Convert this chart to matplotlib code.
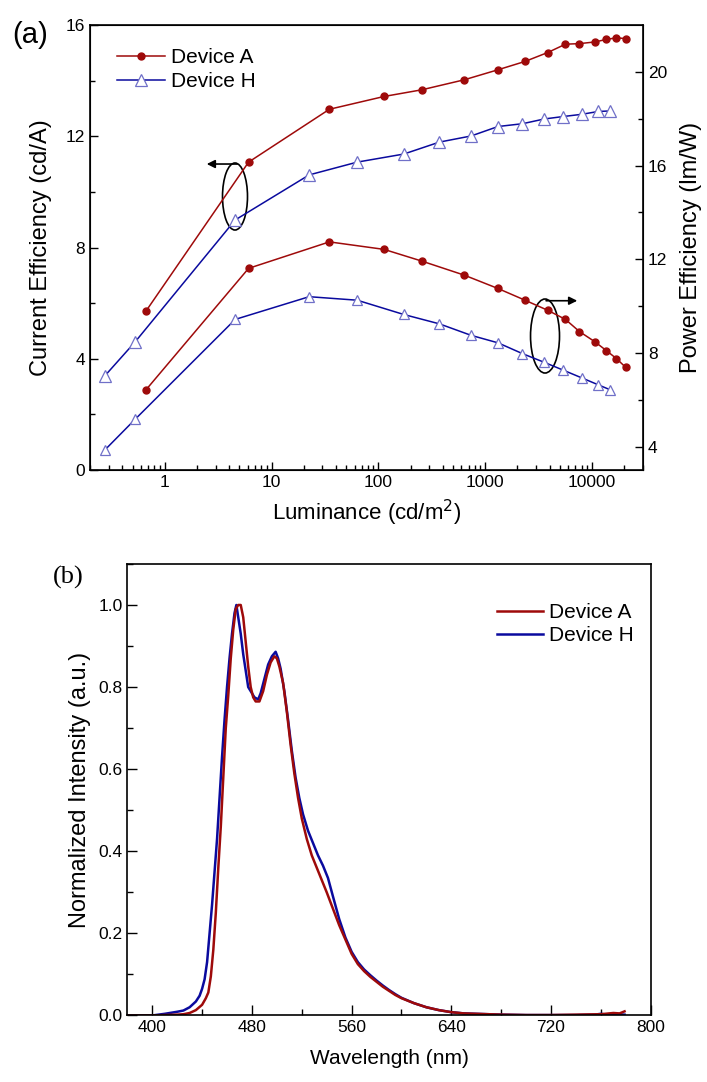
import matplotlib
matplotlib.use('Agg')  # no display
import matplotlib.pyplot as plt
from matplotlib.patches import Ellipse
from matplotlib.ticker import MultipleLocator, FixedLocator

plt.rcParams['font.family'] = ['Liberation Sans', 'DejaVu Sans']

# (a) luminance dependence
lum_a = [0.67, 6.1, 34.8, 113, 255, 637, 1317, 2360, 3846, 5640, 7630, 10600, 13600, 16900, 20700]
ce_a = [5.72, 11.07, 12.97, 13.43, 13.67, 14.03, 14.39, 14.69, 15.01, 15.31, 15.33, 15.39, 15.48, 15.54, 15.51]
pe_a = [6.43, 11.61, 12.74, 12.42, 11.92, 11.32, 10.75, 10.25, 9.82, 9.43, 8.91, 8.48, 8.10, 7.76, 7.38]

lum_h = [0.276, 0.53, 4.57, 22.5, 63.4, 173, 373, 738, 1318, 2230, 3560, 5400, 8050, 11400, 14700]
ce_h = [3.39, 4.61, 8.99, 10.61, 11.07, 11.36, 11.79, 12.01, 12.35, 12.45, 12.62, 12.71, 12.79, 12.89, 12.91]
pe_h = [3.86, 5.17, 9.43, 10.40, 10.25, 9.64, 9.24, 8.75, 8.43, 7.97, 7.60, 7.26, 6.93, 6.64, 6.43]

# (b) EL spectra
wl_a = [380, 390, 400, 410, 420, 425, 430, 435, 440, 443, 445, 447, 449, 451, 453, 455, 457, 459,
        461, 463, 465, 467, 469, 471, 473, 475, 477, 479, 481, 483, 486, 489, 492, 495, 498, 500,
        502, 505, 508, 511, 514, 517, 520, 524, 528, 532, 536, 540, 545, 550, 555, 560, 565, 570,
        575, 580, 585, 590, 595, 600, 610, 620, 630, 640, 650, 660, 680, 700, 720, 740, 760, 770,
        775, 779]
int_a = [0, 0, 0.0, 0.001, 0.002, 0.003, 0.006, 0.013, 0.026, 0.042, 0.056, 0.095, 0.16, 0.25,
         0.36, 0.46, 0.58, 0.70, 0.78, 0.87, 0.94, 0.99, 1.0, 1.0, 0.97, 0.91, 0.85, 0.80, 0.775,
         0.765, 0.765, 0.79, 0.83, 0.86, 0.875, 0.87, 0.85, 0.81, 0.74, 0.66, 0.59, 0.53, 0.48,
         0.43, 0.39, 0.36, 0.33, 0.30, 0.26, 0.22, 0.185, 0.15, 0.125, 0.108, 0.094, 0.082, 0.07,
         0.06, 0.05, 0.042, 0.03, 0.02, 0.013, 0.008, 0.005, 0.004, 0.002, 0.001, 0.001, 0.002,
         0.003, 0.006, 0.005, 0.01]

wl_h = [380, 390, 400, 410, 420, 425, 430, 435, 438, 440, 442, 444, 446, 448, 450, 452, 454, 456,
        458, 460, 462, 464, 466, 467.5, 469, 471, 473, 475, 477, 479, 482, 485, 487, 490, 493, 496,
        499, 501, 503, 506, 509, 512, 515, 518, 521, 525, 529, 533, 537, 541, 545, 550, 555, 560,
        565, 570, 575, 580, 585, 590, 595, 600, 610, 620, 630, 640, 650, 660, 680, 700, 720, 740,
        755, 760, 765, 770, 779]
int_h = [0, 0, 0.0, 0.004, 0.009, 0.012, 0.02, 0.034, 0.048, 0.065, 0.088, 0.13, 0.2, 0.27, 0.35,
         0.43, 0.53, 0.63, 0.72, 0.8, 0.87, 0.93, 0.98, 1.0, 0.97, 0.93, 0.88, 0.84, 0.80, 0.79,
         0.775, 0.77, 0.785, 0.82, 0.855, 0.875, 0.886, 0.87, 0.845, 0.79, 0.72, 0.645, 0.58, 0.53,
         0.49, 0.45, 0.42, 0.39, 0.365, 0.335, 0.29, 0.235, 0.19, 0.155, 0.13, 0.112, 0.098, 0.085,
         0.073, 0.062, 0.052, 0.043, 0.03, 0.02, 0.013, 0.008, 0.005, 0.004, 0.002, 0.001, 0.001,
         0.001, 0.002, 0.004, 0.002, 0.003, 0.002]

red = '#9e0a0a'
blue = '#0a0a9e'
tri = '#7070c8'

fig = plt.figure(figsize=(7.07, 10.82), dpi=100)

# ---- panel (a)
ax = fig.add_axes([0.1273, 0.5656, 0.7822, 0.4113])
ax2 = ax.twinx()

la, = ax.plot(lum_a, ce_a, '-o', color=red, lw=1.1, ms=5, mfc=red, mec=red, label='Device A')
lh, = ax.plot(lum_h, ce_h, '-^', color=blue, lw=1.1, ms=8.5, mfc='white', mec=tri, mew=0.9,
              label='Device H')
ax2.plot(lum_a, pe_a, '-o', color=red, lw=1.1, ms=5, mfc=red, mec=red)
ax2.plot(lum_h, pe_h, '-^', color=blue, lw=1.1, ms=7, mfc='white', mec=tri, mew=0.9)

ax.set_xscale('log')
ax.set_xlim(0.2, 30000)
ax.set_ylim(0, 16)
ax2.set_ylim(3, 22)
ax.yaxis.set_major_locator(MultipleLocator(4))
ax.yaxis.set_minor_locator(MultipleLocator(2))
ax2.yaxis.set_major_locator(MultipleLocator(4))
ax2.yaxis.set_minor_locator(FixedLocator([6, 10, 14, 18]))
ax.set_xticks([1, 10, 100, 1000, 10000])
ax.set_xticklabels(['1', '10', '100', '1000', '10000'])

ax.tick_params(axis='both', which='both', direction='in', labelsize=12.5, top=False, right=False)
ax.tick_params(which='major', length=6, width=1)
ax.tick_params(which='minor', length=3.5, width=1)
ax2.tick_params(axis='y', which='both', direction='in', labelsize=12.5)
ax2.tick_params(which='major', length=6, width=1)
ax2.tick_params(which='minor', length=3.5, width=1)

ax.set_xlabel('Luminance (cd/m$^2$)', fontsize=16, labelpad=6)
ax.set_ylabel('Current Efficiency (cd/A)', fontsize=17, labelpad=10)
ax2.set_ylabel('Power Efficiency (lm/W)', fontsize=17, labelpad=9)

for s in ax2.spines.values():
    s.set_linewidth(1.2)

ax.legend(handles=[la, lh], loc='upper left', bbox_to_anchor=(0.015, 0.99), frameon=False,
          fontsize=15, handlelength=2.3, handletextpad=0.3, labelspacing=0.25)

# ellipses + arrows pointing to the matching axis
ax.add_patch(Ellipse((0.2622, 0.6146), 0.0452, 0.1506, transform=ax.transAxes,
                     fill=False, ec='black', lw=1.2))
ax.annotate('', xy=(0.2061, 0.6876), xytext=(0.2712, 0.6876), xycoords='axes fraction',
            arrowprops=dict(arrowstyle='-|>', color='black', lw=1.2, mutation_scale=12))
ax.add_patch(Ellipse((0.8228, 0.3011), 0.0524, 0.1663, transform=ax.transAxes,
                     fill=False, ec='black', lw=1.2))
ax.annotate('', xy=(0.8861, 0.3804), xytext=(0.8197, 0.3804), xycoords='axes fraction',
            arrowprops=dict(arrowstyle='-|>', color='black', lw=1.2, mutation_scale=12))

fig.text(0.018, 0.9677, '(a)', fontsize=21, va='center', ha='left')

# ---- panel (b)
bx = fig.add_axes([0.1801, 0.0615, 0.7403, 0.4173])
bx.plot(wl_h, int_h, color=blue, lw=1.8, label='Device H')
bx.plot(wl_a, int_a, color=red, lw=1.8, label='Device A')
bx.set_xlim(380, 800)
bx.set_ylim(0, 1.1)
bx.xaxis.set_major_locator(MultipleLocator(80))
bx.xaxis.set_minor_locator(MultipleLocator(40))
bx.yaxis.set_major_locator(MultipleLocator(0.2))
bx.yaxis.set_minor_locator(MultipleLocator(0.1))
bx.set_xticks([400, 480, 560, 640, 720, 800])
bx.tick_params(axis='both', which='both', direction='in', labelsize=12.5, top=False, right=False)
bx.tick_params(which='major', length=7, width=1)
bx.tick_params(which='minor', length=4, width=1)
bx.set_xlabel('Wavelength (nm)', fontsize=15, labelpad=10)
bx.set_ylabel('Normalized Intensity (a.u.)', fontsize=17, labelpad=5)
for s in bx.spines.values():
    s.set_linewidth(1.2)

h, l = bx.get_legend_handles_labels()
bx.legend(h[::-1], l[::-1], loc='upper left', bbox_to_anchor=(0.67, 0.955), frameon=False,
          fontsize=15, handlelength=2.2, handletextpad=0.3, labelspacing=0.2)

fig.text(0.075, 0.4667, '(b)', fontsize=19, va='center', ha='left', family='Liberation Serif')

fig.savefig('out.png', dpi=100)
plt.close(fig)
